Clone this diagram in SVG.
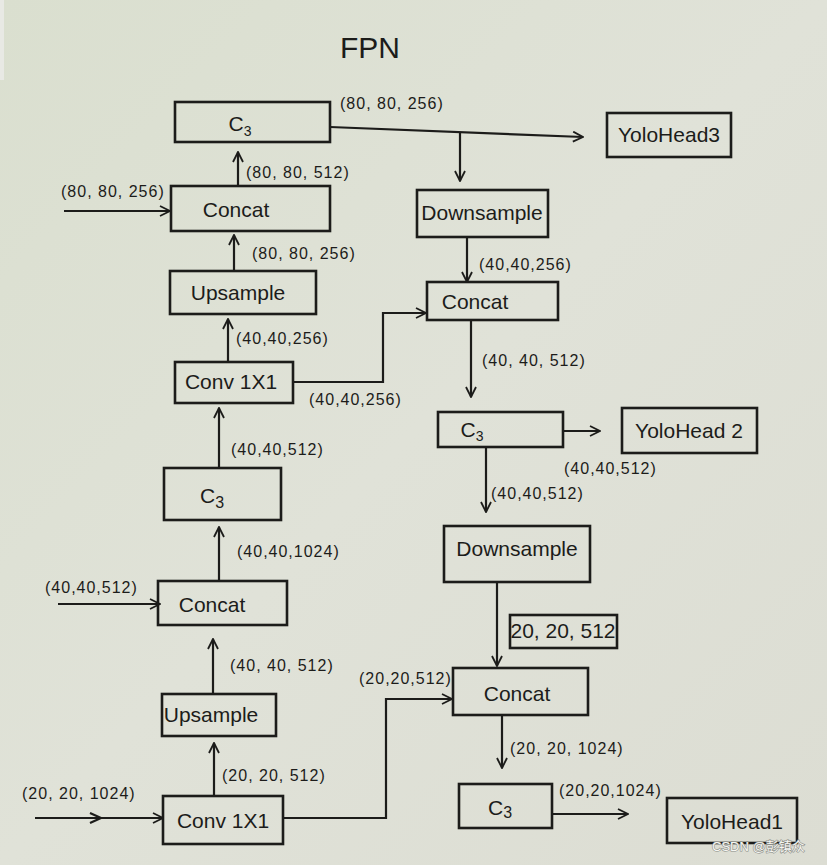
<svg xmlns="http://www.w3.org/2000/svg" width="827" height="865" viewBox="0 0 827 865">
<defs>
<marker id="ah" viewBox="0 0 12 12" refX="11" refY="6" markerWidth="12" markerHeight="12" markerUnits="userSpaceOnUse" orient="auto">
<path d="M1,1 L11,6 L1,11" fill="none" stroke="#1c1c1a" stroke-width="1.8"/>
</marker>
<linearGradient id="bg" x1="0" y1="0" x2="1" y2="1">
<stop offset="0" stop-color="#dadfcf"/>
<stop offset="0.5" stop-color="#e0e2d8"/>
<stop offset="1" stop-color="#dcddd3"/>
</linearGradient>
<style>
.box{fill:none;stroke:#1c1c1a;stroke-width:2.6}
.ln{fill:none;stroke:#1c1c1a;stroke-width:2.2}
.lbl{font-family:"Liberation Sans",Arial,sans-serif;font-size:21px;fill:#1c1c1a;text-anchor:middle}
.dim{font-family:"Liberation Sans",Arial,sans-serif;font-size:16px;letter-spacing:1px;fill:#1c1c1a}
.ttl{font-family:"Liberation Sans",Arial,sans-serif;font-size:30px;fill:#1c1c1a}
.wm{font-family:"Liberation Sans","Noto Sans CJK SC",sans-serif;font-size:13px;fill:#f6f6f2;stroke:#8a8c86;stroke-width:1.2px;paint-order:stroke}
</style>
</defs>
<rect width="827" height="865" fill="url(#bg)"/>
<rect x="0" y="0" width="4" height="80" fill="#e8e9e4"/>
<text class="ttl" x="340" y="58">FPN</text>

<g id="connectors">
<path class="ln" d="M330,127 L583,137" marker-end="url(#ah)"/>
<path class="ln" d="M460,133 L460,181" marker-end="url(#ah)"/>
<path class="ln" d="M467,237 L467,282" marker-end="url(#ah)"/>
<path class="ln" d="M293,382 L383,382 L383,313 L426,313" marker-end="url(#ah)"/>
<path class="ln" d="M471,320 L471,397" marker-end="url(#ah)"/>
<path class="ln" d="M563,431 L600,431" marker-end="url(#ah)"/>
<path class="ln" d="M486,447 L486,512" marker-end="url(#ah)"/>
<path class="ln" d="M497,582 L497,666" marker-end="url(#ah)"/>
<path class="ln" d="M283,818 L386,818 L386,699 L452,699" marker-end="url(#ah)"/>
<path class="ln" d="M502,715 L502,768" marker-end="url(#ah)"/>
<path class="ln" d="M552,814 L628,814" marker-end="url(#ah)"/>
<path class="ln" d="M238,185 L238,152" marker-end="url(#ah)"/>
<path class="ln" d="M64,211 L170,211" marker-end="url(#ah)"/>
<path class="ln" d="M234,270 L234,235" marker-end="url(#ah)"/>
<path class="ln" d="M228,361 L228,319" marker-end="url(#ah)"/>
<path class="ln" d="M219,467 L219,408" marker-end="url(#ah)"/>
<path class="ln" d="M219,580 L219,527" marker-end="url(#ah)"/>
<path class="ln" d="M58,604 L160,604" marker-end="url(#ah)"/>
<path class="ln" d="M213,693 L213,639" marker-end="url(#ah)"/>
<path class="ln" d="M214,795 L214,743" marker-end="url(#ah)"/>
<path class="ln" d="M35,818 L163,818" marker-end="url(#ah)"/>
<path class="ln" d="M101,818 L90,813 M101,818 L90,823"/>
</g>

<g id="labels">
<text class="dim" x="340" y="109">(80, 80, 256)</text>
<text class="dim" x="61" y="197">(80, 80, 256)</text>
<text class="dim" x="246" y="178">(80, 80, 512)</text>
<text class="dim" x="252" y="259">(80, 80, 256)</text>
<text class="dim" x="479" y="270">(40,40,256)</text>
<text class="dim" x="236" y="344">(40,40,256)</text>
<text class="dim" x="309" y="405">(40,40,256)</text>
<text class="dim" x="482" y="366">(40, 40, 512)</text>
<text class="dim" x="231" y="455">(40,40,512)</text>
<text class="dim" x="564" y="474">(40,40,512)</text>
<text class="dim" x="491" y="499">(40,40,512)</text>
<text class="dim" x="237" y="557">(40,40,1024)</text>
<text class="dim" x="45" y="593">(40,40,512)</text>
<text class="dim" x="230" y="671">(40, 40, 512)</text>
<text class="dim" x="359" y="684">(20,20,512)</text>
<text class="dim" x="222" y="781">(20, 20, 512)</text>
<text class="dim" x="22" y="799">(20, 20, 1024)</text>
<text class="dim" x="510" y="754">(20, 20, 1024)</text>
<text class="dim" x="559" y="796">(20,20,1024)</text>
</g>

<g id="c3_80">
<rect class="box" x="175" y="102" width="155" height="40"/>
<text class="lbl" x="240" y="131">C<tspan font-size="14" dy="5">3</tspan></text>
</g>
<g id="yolohead3">
<rect class="box" x="607" y="113" width="124" height="44"/>
<text class="lbl" x="669" y="142" font-size="19">YoloHead3</text>
</g>
<g id="concat_80">
<rect class="box" x="171" y="186" width="159" height="45"/>
<text class="lbl" x="236" y="217">Concat</text>
</g>
<g id="downsample_40">
<rect class="box" x="417" y="190" width="131" height="47"/>
<text class="lbl" x="482" y="220" font-size="19">Downsample</text>
</g>
<g id="upsample_80">
<rect class="box" x="170" y="271" width="146" height="43"/>
<text class="lbl" x="238" y="300">Upsample</text>
</g>
<g id="concat_40r">
<rect class="box" x="427" y="282" width="131" height="38"/>
<text class="lbl" x="475" y="309">Concat</text>
</g>
<g id="conv_40">
<rect class="box" x="175" y="362" width="118" height="41"/>
<text class="lbl" x="231" y="389" font-size="20">Conv 1X1</text>
</g>
<g id="c3_40r">
<rect class="box" x="438" y="412" width="125" height="35"/>
<text class="lbl" x="472" y="437">C<tspan font-size="14" dy="4">3</tspan></text>
</g>
<g id="yolohead2">
<rect class="box" x="622" y="408" width="135" height="45"/>
<text class="lbl" x="689" y="438" font-size="20">YoloHead 2</text>
</g>
<g id="c3_40l">
<rect class="box" x="164" y="468" width="117" height="52"/>
<text class="lbl" x="212" y="503">C<tspan font-size="16" dy="5">3</tspan></text>
</g>
<g id="downsample_20">
<rect class="box" x="444" y="526" width="146" height="56"/>
<text class="lbl" x="517" y="556">Downsample</text>
</g>
<g id="concat_40l">
<rect class="box" x="158" y="581" width="129" height="44"/>
<text class="lbl" x="212" y="612">Concat</text>
</g>
<g id="dim_box">
<rect class="box" x="510" y="615" width="107" height="33"/>
<text class="lbl" x="563" y="638" font-size="17">20, 20, 512</text>
</g>
<g id="concat_20">
<rect class="box" x="453" y="668" width="135" height="47"/>
<text class="lbl" x="517" y="701">Concat</text>
</g>
<g id="upsample_40">
<rect class="box" x="162" y="694" width="114" height="42"/>
<text class="lbl" x="211" y="722" font-size="18">Upsample</text>
</g>
<g id="c3_20">
<rect class="box" x="459" y="784" width="93" height="44"/>
<text class="lbl" x="500" y="815">C<tspan font-size="16" dy="3">3</tspan></text>
</g>
<g id="conv_20">
<rect class="box" x="163" y="796" width="120" height="48"/>
<text class="lbl" x="223" y="828" font-size="20">Conv 1X1</text>
</g>
<g id="yolohead1">
<rect class="box" x="667" y="798" width="130" height="45"/>
<text class="lbl" x="732" y="829" font-size="20">YoloHead1</text>
</g>
<text class="wm" x="712" y="851">CSDN @彭镇众</text>
</svg>
